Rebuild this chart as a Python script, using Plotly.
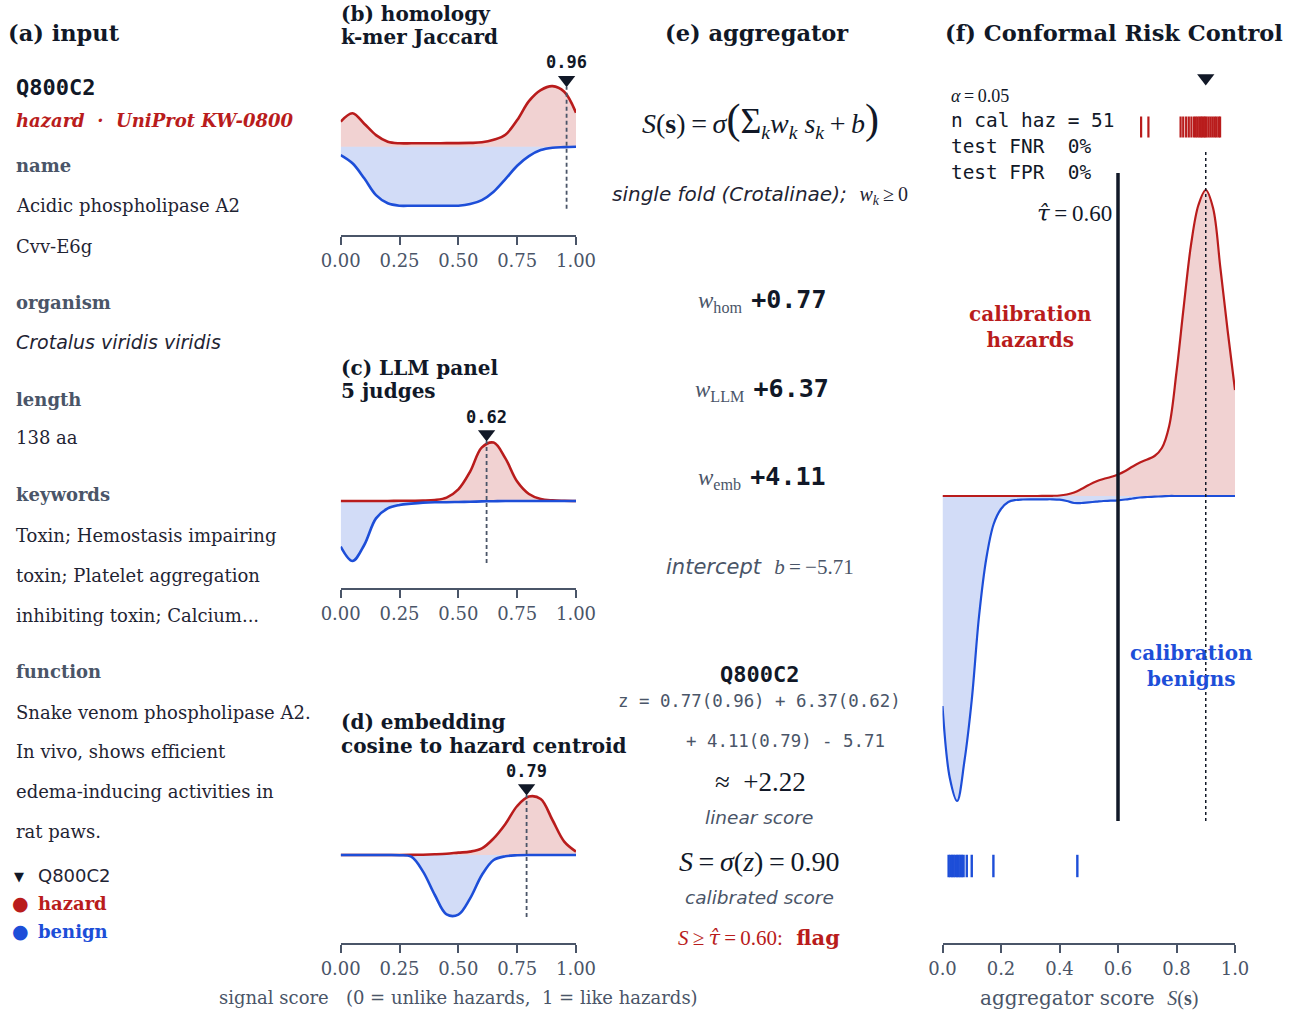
import plotly.graph_objects as go

W, H = 1295, 1012

# ---------------- data ----------------
SIGNAL_GRID = [0.00, 0.05, 0.10, 0.15, 0.20, 0.25, 0.30, 0.35, 0.40, 0.45, 0.50,
               0.55, 0.60, 0.65, 0.70, 0.75, 0.80, 0.85, 0.90, 0.95, 1.00]

HOM_HAZARD = [1.25, 1.67, 1.15, 0.58, 0.25, 0.17, 0.17, 0.17, 0.17, 0.18, 0.18,
              0.19, 0.22, 0.35, 0.60, 1.33, 2.28, 2.83, 3.03, 2.75, 1.70]
HOM_BENIGN = [-0.42, -0.83, -1.58, -2.42, -2.83, -2.95, -2.95, -2.95, -2.95, -2.95, -2.95,
              -2.87, -2.67, -2.25, -1.62, -0.95, -0.47, -0.17, -0.05, -0.02, 0.0]

LLM_HAZARD = [0.0, 0.0, 0.0, 0.0, 0.0, 0.01, 0.015, 0.02, 0.05, 0.17, 0.58,
              1.47, 2.68, 2.92, 2.13, 0.97, 0.35, 0.10, 0.03, 0.01, 0.0]
LLM_BENIGN = [-2.28, -3.00, -2.20, -0.87, -0.37, -0.20, -0.13, -0.08, -0.06, -0.06, -0.05,
              -0.04, -0.02, -0.01, 0.0, 0.0, 0.0, 0.0, 0.0, 0.0, 0.0]

EMB_HAZARD = [0.0, 0.0, 0.0, 0.0, 0.0, 0.0, 0.005, 0.015, 0.035, 0.065, 0.12,
              0.17, 0.33, 0.83, 1.55, 2.45, 2.92, 2.80, 1.75, 0.67, 0.17]
EMB_BENIGN = [0.0, 0.0, 0.0, 0.0, 0.0, -0.01, -0.085, -0.83, -2.00, -2.97, -2.98,
              -2.17, -1.00, -0.25, -0.065, -0.015, 0.0, 0.0, 0.0, 0.0, 0.0]

SIGNAL_NAMES = ["homology", "LLM", "embedding"]
QUERY_SIGNALS = [0.96, 0.62, 0.79]

AGG_GRID = [0.000, 0.025, 0.050, 0.075, 0.100, 0.125, 0.150, 0.175, 0.200, 0.225,
            0.250, 0.275, 0.300, 0.325, 0.350, 0.375, 0.400, 0.425, 0.450, 0.475,
            0.500, 0.525, 0.550, 0.575, 0.600, 0.625, 0.650, 0.675, 0.700, 0.725,
            0.750, 0.775, 0.800, 0.825, 0.850, 0.875, 0.900, 0.925, 0.950, 0.975, 1.000]
AGG_HAZARD = [0.0, 0.0, 0.0, 0.0, 0.0, 0.0, 0.0, 0.0, 0.0, 0.0,
              0.0, 0.0, 0.0, 0.0, 0.001, 0.002, 0.005, 0.015, 0.035, 0.07,
              0.11, 0.145, 0.17, 0.19, 0.215, 0.25, 0.295, 0.335, 0.365, 0.40,
              0.48, 0.70, 1.24, 1.90, 2.52, 2.91, 3.06, 2.88, 2.28, 1.65, 1.06]
AGG_BENIGN = [-2.10, -2.82, -3.05, -2.65, -2.04, -1.20, -0.62, -0.28, -0.13, -0.06,
              -0.04, -0.035, -0.033, -0.033, -0.033, -0.033, -0.037, -0.05, -0.07, -0.07,
              -0.063, -0.057, -0.05, -0.047, -0.043, -0.035, -0.025, -0.015, -0.01, -0.006,
              -0.004, 0.0, 0.0, 0.0, 0.0, 0.0, 0.0, 0.0, 0.0, 0.0, 0.0]

CAL_HAZARD_SCORES = [0.679, 0.704, 0.814, 0.823, 0.833, 0.842, 0.851, 0.860, 0.866,
                     0.872, 0.878, 0.883, 0.888, 0.893, 0.898, 0.903, 0.910, 0.917,
                     0.924, 0.931, 0.937, 0.944, 0.949]
CAL_BENIGN_SCORES = [0.021, 0.027, 0.033, 0.038, 0.044, 0.050, 0.055, 0.061, 0.066,
                     0.072, 0.083, 0.100, 0.174, 0.461]

WEIGHTS = [0.77, 6.37, 4.11]
INTERCEPT = -5.71
LINEAR_Z = 2.22
QUERY_S = 0.90
TAU_HAT = 0.60
ALPHA = 0.05
N_CAL_HAZ = 51

MINI_TICKS = [0.0, 0.25, 0.50, 0.75, 1.0]
AGG_TICKS = [0.0, 0.2, 0.4, 0.6, 0.8, 1.0]

# ---------------- styling ----------------
SERIF = "DejaVu Serif"
MONO = "DejaVu Sans Mono"
SANS = "DejaVu Sans"
MATH = "Liberation Serif"
NAVY = "#111827"
TEXT = "#1f2433"
SLATE = "#4a5568"
RED = "#b91c1c"
BLUE = "#1d4ed8"
RED_FILL = "rgba(185,28,28,0.20)"
BLUE_FILL = "rgba(29,78,216,0.20)"
TS = "\u2009"  # thin space
TAUHAT = "<span style='font-family:DejaVu Serif'><i>τ̂</i></span>"


def px(x):
    return x / W


def py(y):
    return 1 - y / H


fig = go.Figure()


def text(x, y, s, size, color=TEXT, family=SERIF, anchor="left", yanchor="middle"):
    fig.add_annotation(x=px(x), y=py(y), xref="paper", yref="paper", text=s,
                       showarrow=False, xanchor=anchor, yanchor=yanchor,
                       font=dict(family=family, size=size, color=color))


def axis_common(ticks, fmt):
    return dict(range=[0, 1], tickvals=ticks, tickformat=fmt, showline=True,
                linecolor=SLATE, linewidth=2, ticks="outside", ticklen=8, tickwidth=2,
                tickcolor=SLATE, showgrid=False, zeroline=False, automargin=False,
                tickfont=dict(family=SERIF, size=18, color=SLATE))


def add_density(xk, yk, grid, haz, ben, lw):
    fig.add_trace(go.Scatter(x=grid, y=haz, mode="lines", line=dict(width=0, shape="spline"),
                             fill="tozeroy", fillcolor=RED_FILL, xaxis=xk, yaxis=yk))
    fig.add_trace(go.Scatter(x=grid, y=ben, mode="lines", line=dict(width=0, shape="spline"),
                             fill="tozeroy", fillcolor=BLUE_FILL, xaxis=xk, yaxis=yk))
    fig.add_trace(go.Scatter(x=grid, y=haz, mode="lines",
                             line=dict(width=lw, color=RED, shape="spline"), xaxis=xk, yaxis=yk))
    fig.add_trace(go.Scatter(x=grid, y=ben, mode="lines",
                             line=dict(width=lw, color=BLUE, shape="spline"), xaxis=xk, yaxis=yk))


# ---------------- mini panels (b), (c), (d) ----------------
MINI_UNIT = 20.0
mini_specs = [
    dict(t1="(b) homology", t2="k-mer Jaccard", ty=(14, 37), base=146.7, axis=235, top=50,
         haz=HOM_HAZARD, ben=HOM_BENIGN),
    dict(t1="(c) LLM panel", t2="5 judges", ty=(368, 391), base=501, axis=588, top=405,
         haz=LLM_HAZARD, ben=LLM_BENIGN),
    dict(t1="(d) embedding", t2="cosine to hazard centroid", ty=(722, 746), base=855, axis=943,
         top=760, haz=EMB_HAZARD, ben=EMB_BENIGN),
]

layout_axes = {}
for i, spec in enumerate(mini_specs):
    suf = "" if i == 0 else str(i + 1)
    xk, yk = "x" + suf, "y" + suf
    q = QUERY_SIGNALS[i]
    ax = axis_common(MINI_TICKS, ".2f")
    ax.update(domain=[px(340.7), px(576)], anchor=yk)
    layout_axes["xaxis" + suf] = ax
    layout_axes["yaxis" + suf] = dict(
        domain=[py(spec["axis"]), py(spec["top"])],
        range=[-(spec["axis"] - spec["base"]) / MINI_UNIT, (spec["base"] - spec["top"]) / MINI_UNIT],
        visible=False, anchor=xk, automargin=False)
    add_density(xk, yk, SIGNAL_GRID, spec["haz"], spec["ben"], 2.6)
    fig.add_shape(type="line", xref=xk, yref=yk, x0=q, x1=q, y0=-3.1, y1=3.0,
                  line=dict(color=SLATE, width=1.8, dash="4px,3px"), layer="above")
    fig.add_trace(go.Scatter(x=[q], y=[3.35], mode="markers", xaxis=xk, yaxis=yk,
                             marker=dict(symbol="triangle-down", size=15, color=NAVY)))
    fig.add_annotation(x=q, y=4.22, xref=xk, yref=yk, text="<b>%.2f</b>" % q, showarrow=False,
                       font=dict(family=MONO, size=17, color=NAVY))
    text(339, spec["ty"][0], "<b>%s</b>" % spec["t1"], 20, NAVY)
    text(339, spec["ty"][1], "<b>%s</b>" % spec["t2"], 20, NAVY)

text(458, 997, "signal score \u00a0\u00a0(0 = unlike hazards, \u00a01 = like hazards)", 18, SLATE,
     anchor="center")

# ---------------- panel (f) ----------------
F_UNIT = 100.0
F_BASE, F_AXIS, F_TOP = 496, 943, 55
ax = axis_common(AGG_TICKS, ".1f")
ax.update(domain=[px(942.5), px(1235)], anchor="y4")
layout_axes["xaxis4"] = ax
layout_axes["yaxis4"] = dict(domain=[py(F_AXIS), py(F_TOP)],
                             range=[-(F_AXIS - F_BASE) / F_UNIT, (F_BASE - F_TOP) / F_UNIT],
                             visible=False, anchor="x4", automargin=False)
add_density("x4", "y4", AGG_GRID, AGG_HAZARD, AGG_BENIGN, 2.2)

fig.add_shape(type="line", xref="x4", yref="y4", x0=QUERY_S, x1=QUERY_S, y0=-3.25, y1=3.46,
              line=dict(color=NAVY, width=1.5, dash="dot"), layer="above")
fig.add_shape(type="line", xref="x4", yref="y4", x0=TAU_HAT, x1=TAU_HAT, y0=-3.25, y1=3.23,
              line=dict(color=NAVY, width=3.5), layer="above")
fig.add_trace(go.Scatter(x=CAL_HAZARD_SCORES, y=[3.69] * len(CAL_HAZARD_SCORES), mode="markers",
                         xaxis="x4", yaxis="y4",
                         marker=dict(symbol="line-ns-open", size=15, color=RED,
                                     line=dict(color=RED, width=2.2))))
fig.add_trace(go.Scatter(x=CAL_BENIGN_SCORES, y=[-3.70] * len(CAL_BENIGN_SCORES), mode="markers",
                         xaxis="x4", yaxis="y4",
                         marker=dict(symbol="line-ns-open", size=16, color=BLUE,
                                     line=dict(color=BLUE, width=2.4))))
fig.add_trace(go.Scatter(x=[QUERY_S], y=[4.18], mode="markers", xaxis="x4", yaxis="y4",
                         marker=dict(symbol="triangle-down", size=15, color=NAVY)))

text(943, 33, "<b>(f) Conformal Risk Control</b>", 22.5, NAVY)
text(949, 96, "<i>α</i>" + TS + "=" + TS + "%.2f" % ALPHA, 18, NAVY, family=MATH)
text(949, 121, "n cal haz = %d" % N_CAL_HAZ, 19.4, NAVY, family=MONO)
text(949, 146, "test FNR\u00a0\u00a00%", 19.4, NAVY, family=MONO)
text(949, 172, "test FPR\u00a0\u00a00%", 19.4, NAVY, family=MONO)
text(1114, 213, TAUHAT + TS + "=" + TS + "%.2f" % TAU_HAT, 23, NAVY, family=MATH, anchor="right")
text(1030, 327, "<b>calibration</b><br><b>hazards</b>", 20, RED, anchor="center")
text(1191, 666, "<b>calibration</b><br><b>benigns</b>", 20, BLUE, anchor="center")
text(1089, 998, "aggregator score \u00a0<span style='font-family:Liberation Serif'><i>S</i>(<b>s</b>)</span>",
     20, SLATE, anchor="center")

# ---------------- panel (a) ----------------
text(6, 33, "<b>(a) input</b>", 22.5, NAVY)
text(14, 87, "<b>Q800C2</b>", 22, NAVY, family=MONO)
text(14, 121, "<b><i>hazard \u00a0·\u00a0 UniProt KW-0800</i></b>", 18, RED)
fields = [
    ("name", 166, False), ("Acidic phospholipase A2", 206, None), ("Cvv-E6g", 246, None),
    ("organism", 303, False), ("Crotalus viridis viridis", 342, "i"),
    ("length", 399, False), ("138 aa", 438, None),
    ("keywords", 495, False), ("Toxin; Hemostasis impairing", 535, None),
    ("toxin; Platelet aggregation", 575, None), ("inhibiting toxin; Calcium...", 615, None),
    ("function", 671, False), ("Snake venom phospholipase A2.", 712, None),
    ("In vivo, shows efficient", 751, None), ("edema-inducing activities in", 791, None),
    ("rat paws.", 831, None),
]
for label, yy, kind in fields:
    if kind is False:
        text(14, yy, "<b>%s</b>" % label, 18, SLATE)
    elif kind == "i":
        text(14, yy, "<i>%s</i>" % label, 19, TEXT, family=SANS)
    else:
        text(14, yy, label, 18, TEXT)
text(12, 876, "▼", 13, NAVY, family=SANS)
text(36, 875, "Q800C2", 18, TEXT, family=SANS)
text(10, 903, "●", 19, RED, family=SANS)
text(36, 903, "<b>hazard</b>", 18, RED)
text(10, 931, "●", 19, BLUE, family=SANS)
text(36, 931, "<b>benign</b>", 18, BLUE)

# ---------------- panel (e) ----------------
M = "<span style='font-family:Liberation Serif'>%s</span>"
EQ = TS + "=" + TS
text(757, 33, "<b>(e) aggregator</b>", 22.5, NAVY, anchor="center")
text(760, 120,
     "<i>S</i>(<b>s</b>)" + EQ + "<i>σ</i><span style='font-size:42px'>(</span>"
     "<span style='font-size:36px'>Σ</span><sub><i>k</i></sub><i>w<sub>k</sub> s<sub>k</sub></i>"
     + TS + "+" + TS + "<i>b</i>"
     "<span style='font-size:42px'>)</span>", 28, NAVY, family=MATH, anchor="center")
text(760, 195, "<i>single fold (Crotalinae);</i> \u00a0" + M % ("<i>w<sub>k</sub></i>" + TS + "≥" + TS + "0"),
     20, TEXT, family=SANS, anchor="center")
for name, val, yy in zip(["hom", "LLM", "emb"], WEIGHTS, [300, 389, 478]):
    text(762, yy,
         "<span style='font-family:Liberation Serif;color:%s;font-size:23px'><i>w</i><sub>%s</sub>\u2009\u2009</span>"
         "<b>%+.2f</b>" % (SLATE, name, val), 25, NAVY, family=MONO, anchor="center")
text(760, 567, "<i>intercept</i> \u00a0" + M % ("<i>b</i>" + EQ + "−%.2f" % abs(INTERCEPT)),
     21, SLATE, family=SANS, anchor="center")
text(759, 674, "<b>Q800C2</b>", 22, NAVY, family=MONO, anchor="center")
text(759, 701, "z = %.2f(%.2f) + %.2f(%.2f)" % (WEIGHTS[0], QUERY_SIGNALS[0], WEIGHTS[1], QUERY_SIGNALS[1]),
     17.4, SLATE, family=MONO, anchor="center")
text(785, 741, "+ %.2f(%.2f) - %.2f" % (WEIGHTS[2], QUERY_SIGNALS[2], abs(INTERCEPT)),
     17.4, SLATE, family=MONO, anchor="center")
text(760, 782, "≈ \u00a0+%.2f" % LINEAR_Z, 27, NAVY, family=MATH, anchor="center")
text(759, 817, "<i>linear score</i>", 18.5, SLATE, family=SANS, anchor="center")
text(759, 861, "<i>S</i>" + EQ + "<i>σ</i>(<i>z</i>)" + EQ + "%.2f" % QUERY_S, 28, NAVY,
     family=MATH, anchor="center")
text(759, 897, "<i>calibrated score</i>", 18.5, SLATE, family=SANS, anchor="center")
text(759, 937, M % ("<i>S</i>" + TS + "≥" + TS) + TAUHAT + M % (EQ + "%.2f:" % TAU_HAT)
     + " \u00a0<b>flag</b>", 21, RED, family=SERIF, anchor="center")

fig.update_layout(width=W, height=H, margin=dict(l=0, r=0, t=0, b=0, pad=0, autoexpand=False),
                  paper_bgcolor="white", plot_bgcolor="white", showlegend=False,
                  hovermode=False, **layout_axes)

fig.write_html("out.html", config={"displayModeBar": False, "staticPlot": True},
               post_script="document.body.style.margin='0';")
